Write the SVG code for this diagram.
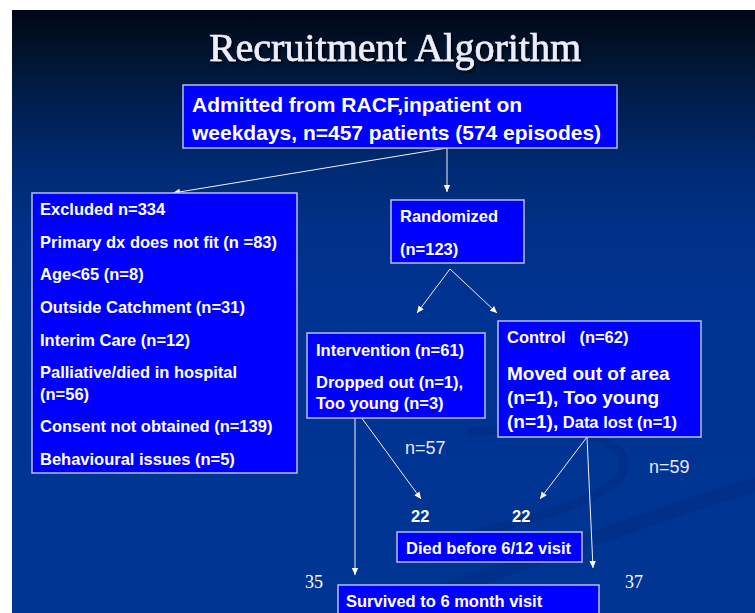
<svg xmlns="http://www.w3.org/2000/svg" width="755" height="613" viewBox="0 0 755 613">
  <defs>
    <linearGradient id="bg" x1="0" y1="10" x2="0" y2="613" gradientUnits="userSpaceOnUse">
      <stop offset="0" stop-color="#030318"/>
      <stop offset="0.02" stop-color="#020a1c"/>
      <stop offset="0.08" stop-color="#011530"/>
      <stop offset="0.16" stop-color="#001f52"/>
      <stop offset="0.26" stop-color="#002a72"/>
      <stop offset="0.36" stop-color="#003188"/>
      <stop offset="0.5" stop-color="#003492"/>
      <stop offset="1" stop-color="#003594"/>
    </linearGradient>
    <filter id="shadow" x="-5%" y="-20%" width="110%" height="150%">
      <feDropShadow dx="2" dy="2" stdDeviation="0.8" flood-color="#000000" flood-opacity="0.85"/>
    </filter>
    <marker id="ah" markerWidth="8" markerHeight="8" refX="7" refY="4" orient="auto" markerUnits="userSpaceOnUse">
      <path d="M0,0.8 L7,4 L0,7.2 Z" fill="#ffffff"/>
    </marker>
    <style>
      .box { fill: #0000ff; stroke: #b8bfe6; stroke-width: 1.5; }
      .t { font-family: "Liberation Sans", Arial, sans-serif; font-weight: bold; fill: #ffffff; font-size: 16.5px; }
      .big { font-size: 19px; }
      .top { font-size: 21px; }
      .lbl { font-family: "Liberation Sans", Arial, sans-serif; fill: #e6e8f4; font-size: 18px; }
      .num { font-family: "Liberation Serif", "Times New Roman", serif; fill: #ffffff; font-size: 18px; }
      .conn { stroke: #f0f0f8; stroke-width: 1; fill: none; }
    </style>
  </defs>

  <rect x="0" y="0" width="755" height="613" fill="#ffffff"/>
  <rect x="12" y="10" width="743" height="603" fill="url(#bg)"/>
  <g id="swoosh" fill="none" stroke="#002a7e" stroke-linecap="round" opacity="0.45">
    <path d="M 470 432 C 580 420, 650 445, 615 482 C 590 505, 520 522, 430 545" stroke-width="9"/>
    <path d="M 420 598 C 540 560, 660 512, 755 485" stroke-width="14"/>
  </g>

  <g id="title">
    <text x="395" y="61" text-anchor="middle" font-family="Liberation Serif, 'Times New Roman', serif" font-size="40" fill="#eceeff" stroke="#eceeff" stroke-width="0.6" filter="url(#shadow)">Recruitment Algorithm</text>
  </g>

  <g id="connectors">
    <line class="conn" x1="447" y1="148" x2="173" y2="193" marker-end="url(#ah)"/>
    <line class="conn" x1="447" y1="148" x2="447" y2="192" marker-end="url(#ah)"/>
    <line class="conn" x1="450" y1="269" x2="417" y2="313" marker-end="url(#ah)"/>
    <line class="conn" x1="450" y1="269" x2="497" y2="313" marker-end="url(#ah)"/>
    <line class="conn" x1="355" y1="410" x2="355" y2="575" marker-end="url(#ah)"/>
    <line class="conn" x1="361" y1="417" x2="421" y2="499" marker-end="url(#ah)"/>
    <line class="conn" x1="587" y1="437" x2="540" y2="499" marker-end="url(#ah)"/>
    <line class="conn" x1="587" y1="437" x2="593" y2="568" marker-end="url(#ah)"/>
  </g>

  <g id="admitted">
    <rect class="box" x="183" y="85" width="434" height="63"/>
    <text class="t top" x="192" y="112">Admitted from RACF,inpatient on</text>
    <text class="t top" x="192" y="140">weekdays, n=457 patients (574 episodes)</text>
  </g>

  <g id="excluded">
    <rect class="box" x="32" y="193" width="265" height="280"/>
    <text class="t" x="40" y="215">Excluded n=334</text>
    <text class="t" x="40" y="248">Primary dx does not fit (n =83)</text>
    <text class="t" x="40" y="280">Age&lt;65 (n=8)</text>
    <text class="t" x="40" y="313">Outside Catchment (n=31)</text>
    <text class="t" x="40" y="346">Interim Care (n=12)</text>
    <text class="t" x="40" y="378">Palliative/died in hospital</text>
    <text class="t" x="40" y="400">(n=56)</text>
    <text class="t" x="40" y="432">Consent not obtained (n=139)</text>
    <text class="t" x="40" y="465">Behavioural issues (n=5)</text>
  </g>

  <g id="randomized">
    <rect class="box" x="391" y="200" width="133" height="63"/>
    <text class="t" x="400" y="222">Randomized</text>
    <text class="t" x="400" y="255">(n=123)</text>
  </g>

  <g id="intervention">
    <rect class="box" x="307" y="333" width="178" height="85"/>
    <text class="t" x="316" y="356">Intervention (n=61)</text>
    <text class="t" x="316" y="388">Dropped out (n=1),</text>
    <text class="t" x="316" y="409">Too young (n=3)</text>
  </g>

  <g id="control">
    <rect class="box" x="498" y="321" width="203" height="116"/>
    <text class="t" x="507" y="343" xml:space="preserve">Control   (n=62)</text>
    <text class="t big" x="507" y="380">Moved out of area</text>
    <text class="t big" x="507" y="404">(n=1), Too young</text>
    <text class="t" x="507" y="428"><tspan class="big">(n=1),</tspan> Data lost (n=1)</text>
  </g>

  <g id="labels">
    <text class="lbl" x="405" y="454">n=57</text>
    <text class="lbl" x="649" y="473">n=59</text>
    <text class="t" x="411" y="522">22</text>
    <text class="t" x="512" y="522">22</text>
    <text class="num" x="305" y="588">35</text>
    <text class="num" x="625" y="588">37</text>
  </g>

  <g id="died">
    <rect class="box" x="397" y="532" width="185" height="30"/>
    <text class="t" x="406" y="554">Died before 6/12 visit</text>
  </g>

  <g id="survived">
    <rect class="box" x="338" y="585" width="261" height="40"/>
    <text class="t" x="346" y="607">Survived to 6 month visit</text>
  </g>
</svg>
